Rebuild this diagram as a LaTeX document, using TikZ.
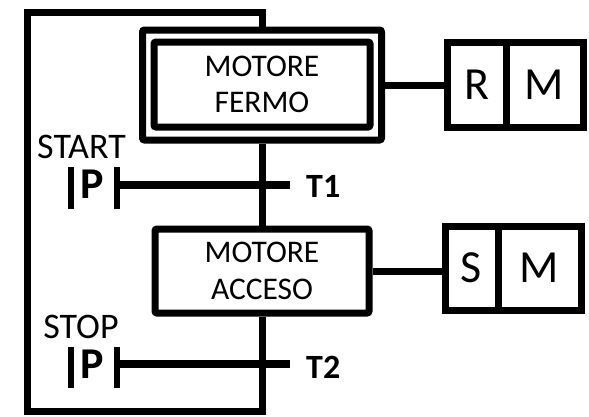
\documentclass[tikz,border=0pt]{standalone}
\usepackage{fontspec}
\setmainfont{Carlito}
\begin{document}
\begin{tikzpicture}[x=1pt,y=-1pt,
  stepbox/.style={draw,line width=7pt,rounded corners=2pt,inner sep=0pt,align=center,
    font=\fontsize{31.5}{36.5}\selectfont},
  cellbox/.style={draw,line width=7pt,inner sep=0pt,font=\fontsize{46}{46}\selectfont},
  wire/.style={line width=7pt},
  bar/.style={line width=8pt},
  pbar/.style={line width=6pt},
  lbl/.style={inner sep=0pt,font=\fontsize{36}{36}\selectfont},
  tlbl/.style={inner sep=0pt,font=\fontsize{34}{34}\selectfont\bfseries},
  plbl/.style={inner sep=0pt,font=\fontsize{44}{44}\selectfont\bfseries}]
\useasboundingbox (0,0) rectangle (589,416);
\fill[white] (0,0) rectangle (589,416);
% step 1 (initial, double box)
\node[stepbox,minimum width=239pt,minimum height=110pt] (s1o) at (262,85) {};
\node[stepbox,minimum width=216pt,minimum height=85pt] (s1) at (262,84.5) {MOTORE\\FERMO};
% step 2
\node[stepbox,minimum width=214pt,minimum height=84pt] (s2) at (262,271) {MOTORE\\ACCESO};
% action boxes
\node[cellbox,minimum width=59pt,minimum height=85pt] (r1) at (476.5,84.5) {R};
\node[cellbox,minimum width=77pt,minimum height=85pt] (m1) at (544.5,84.5) {M};
\node[cellbox,minimum width=53pt,minimum height=84pt] (a2) at (471.5,268) {S};
\node[cellbox,minimum width=83pt,minimum height=84pt] (m2) at (539.5,268) {M};
\draw[wire] (s1o.east) -- (s1o.east -| r1.west);
\draw[wire] (s2.east) -- (s2.east -| a2.west);
% loop and links
\coordinate (tl) at (27,12);
\coordinate (tr) at (262,12);
\coordinate (bl) at (27,411);
\coordinate (br) at (262,411);
\draw[wire] (s1o.south) -- (s2.north);
\draw[wire] (s2.south) -- (br) -- (bl) -- (tl) -- (tr) -- (s1o.north);
% transition 1
\coordinate (t1l) at (117,185);
\coordinate (t1r) at (290,185);
\draw[bar] (t1l) -- (t1r);
\node[tlbl,anchor=base west] (t1) at (306,197) {T1};
\coordinate (p1a) at (71,167);
\coordinate (p1b) at (71,209);
\coordinate (p1c) at (117,167);
\coordinate (p1d) at (117,209);
\draw[pbar] (p1a) -- (p1b);
\draw[pbar] (p1c) -- (p1d);
\node[plbl,anchor=base] (p1) at (92,198) {P};
\node[lbl,anchor=base] (start) at (81.5,158) {START};
% transition 2
\coordinate (t2l) at (117,364);
\coordinate (t2r) at (290,364);
\draw[bar] (t2l) -- (t2r);
\node[tlbl,anchor=base west] (t2) at (306,378) {T2};
\coordinate (p2a) at (71,347);
\coordinate (p2b) at (71,388);
\coordinate (p2c) at (117,347);
\coordinate (p2d) at (117,388);
\draw[pbar] (p2a) -- (p2b);
\draw[pbar] (p2c) -- (p2d);
\node[plbl,anchor=base] (p2) at (92,378) {P};
\node[lbl,anchor=base] (stop) at (81,338) {STOP};
\end{tikzpicture}
\end{document}
